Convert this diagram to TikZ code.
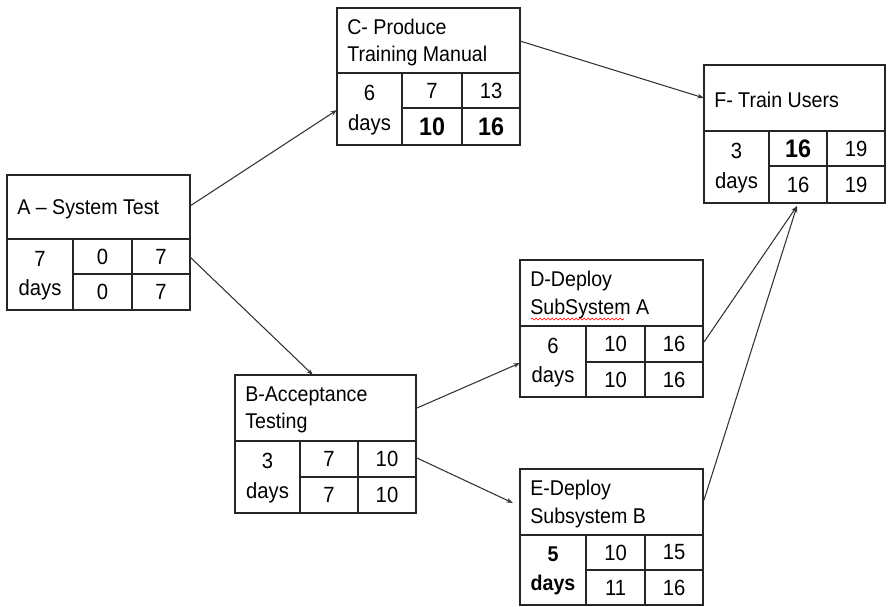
\documentclass[tikz,border=0pt]{standalone}
\usepackage{fontspec}
\setmainfont{Liberation Sans}[FakeStretch=0.92]
\usetikzlibrary{arrows.meta,calc,fit,decorations.pathmorphing}

\newcommand\actbox[9]{%
  \node[boxframe, fit={(#2,#3) (#4,#5)}] (#1) {};
  \draw[boxline] (#2,#6) -- (#4,#6);
  \draw[boxline] (#7,#6) -- (#7,#5);
  \draw[boxline] (#8,#6) -- (#8,#5);
  \draw[boxline] (#7,#9) -- (#4,#9);
  \coordinate (#1-t) at ({#2+10},{(#3+#6)/2+2});
  \coordinate (#1-d) at ({(#2+#7)/2},{(#6+#5)/2+1});
  \coordinate (#1-es) at ({(#7+#8)/2},{(#6+#9)/2});
  \coordinate (#1-ef) at ({(#8+#4)/2},{(#6+#9)/2});
  \coordinate (#1-ls) at ({(#7+#8)/2},{(#9+#5)/2});
  \coordinate (#1-lf) at ({(#8+#4)/2},{(#9+#5)/2});
}

\begin{document}
\begin{tikzpicture}[x=0.75pt,y=-0.75pt,
  boxline/.style={line width=1.1pt, draw=black!85},
  boxframe/.style={boxline, draw, rectangle, inner sep=0pt, outer sep=0pt},
  title/.style={anchor=west, align=left, inner sep=0pt, font=\fontsize{16}{20.5}\selectfont},
  cell/.style={align=center, inner sep=0pt, font=\fontsize{16.5}{22}\selectfont},
  big/.style={align=center, inner sep=0pt, font=\fontsize{19}{22}\selectfont\bfseries},
  bcell/.style={align=center, inner sep=0pt, font=\fontsize{16}{22}\selectfont\bfseries},
  arr/.style={line width=0.8pt, draw=black!80, -{Stealth[length=5pt,width=3.5pt]}}]

\useasboundingbox (0,0) rectangle (891,606);

% boxes: name, x1, y1, x2, y2, ydiv, xcol1, xcol2, yrow
\actbox{A}{7}{175}{190}{310}{239}{73}{132}{274}
\actbox{B}{235}{375}{416}{513}{441}{300}{358}{477}
\actbox{C}{337}{8}{520}{145}{73}{402}{462}{108}
\actbox{D}{520}{260}{703}{397}{326}{586}{645}{362}
\actbox{E}{520}{469}{703}{605}{535}{586}{645}{570}
\actbox{F}{704}{65}{885}{203}{131}{769}{827}{166}

% A
\node[title] (A-title) at (A-t) {A – System Test};
\node[cell] (A-dur) at (A-d) {7\\days};
\node[cell] (A-ES) at (A-es) {0};
\node[cell] (A-EF) at (A-ef) {7};
\node[cell] (A-LS) at (A-ls) {0};
\node[cell] (A-LF) at (A-lf) {7};

% B
\node[title] (B-title) at (B-t) {B-Acceptance\\Testing};
\node[cell] (B-dur) at (B-d) {3\\days};
\node[cell] (B-ES) at (B-es) {7};
\node[cell] (B-EF) at (B-ef) {10};
\node[cell] (B-LS) at (B-ls) {7};
\node[cell] (B-LF) at (B-lf) {10};

% C
\node[title] (C-title) at (C-t) {C- Produce\\Training Manual};
\node[cell] (C-dur) at (C-d) {6\\days};
\node[cell] (C-ES) at (C-es) {7};
\node[cell] (C-EF) at (C-ef) {13};
\node[big] (C-LS) at (C-ls) {10};
\node[big] (C-LF) at (C-lf) {16};

% D
\node[title] (D-title) at (D-t) {D-Deploy\\SubSystem A};
\draw[red, line width=0.5pt, decorate, decoration={snake, amplitude=0.7pt, segment length=3pt}] (531,319) -- (624,319);
\node[cell] (D-dur) at (D-d) {6\\days};
\node[cell] (D-ES) at (D-es) {10};
\node[cell] (D-EF) at (D-ef) {16};
\node[cell] (D-LS) at (D-ls) {10};
\node[cell] (D-LF) at (D-lf) {16};

% E
\node[title] (E-title) at (E-t) {E-Deploy\\Subsystem B};
\node[bcell] (E-dur) at (E-d) {5\\days};
\node[cell] (E-ES) at (E-es) {10};
\node[cell] (E-EF) at (E-ef) {15};
\node[cell] (E-LS) at (E-ls) {11};
\node[cell] (E-LF) at (E-lf) {16};

% F
\node[title] (F-title) at (F-t) {F- Train Users};
\node[cell] (F-dur) at (F-d) {3\\days};
\node[big] (F-ES) at (F-es) {16};
\node[cell] (F-EF) at (F-ef) {19};
\node[cell] (F-LS) at (F-ls) {16};
\node[cell] (F-LF) at (F-lf) {19};

% connectors
\draw[arr] ($(A.north east)+(0,31)$) -- ($(C.north west)+(0,102)$);
\draw[arr] ($(A.north east)+(0,82)$) -- ($(B.north west)+(78,0)$);
\draw[arr] ($(C.north east)+(0,33)$) -- ($(F.north west)+(0,33)$);
\draw[arr] ($(B.north east)+(1,33)$) -- ($(D.north west)+(0,103)$);
\draw[arr] ($(B.north east)+(1,83)$) -- ($(E.north west)+(-7,34)$);
\draw[arr] ($(D.north east)+(1,82)$) -- ($(F.south west)+(93,3)$);
\draw[arr] ($(E.north east)+(1,31)$) -- ($(F.south west)+(93,3)$);
\end{tikzpicture}
\end{document}
